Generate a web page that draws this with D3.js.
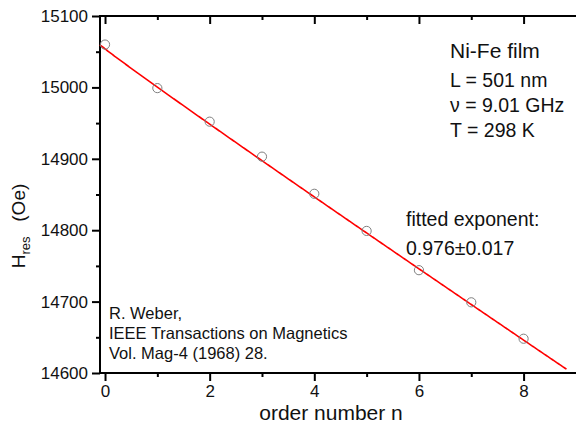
<!DOCTYPE html>
<html>
<head>
<meta charset="utf-8">
<script src="https://cdn.jsdelivr.net/npm/d3@7"></script>
<style>
  html, body { margin: 0; padding: 0; background: #fff; }
  svg { display: block; font-family: "Liberation Sans", Arial, sans-serif; }
</style>
</head>
<body>
<svg id="chart" width="576" height="426"></svg>
<script>
// Measured resonance fields for each order number
const orderN = [0, 1, 2, 3, 4, 5, 6, 7, 8];
const hRes = [15060, 14999, 14952, 14903, 14851, 14799, 14744, 14699, 14648];

// Fit H = H0 - C * n^p
const fitH0 = 15054;
const fitC = 53.6;
const fitExponent = 0.976;
const fitRange = [-0.1, 8.82];

const xMajorTicks = [0, 2, 4, 6, 8];
const xMinorTicks = [1, 3, 5, 7];
const yMajorTicks = [14600, 14700, 14800, 14900, 15000, 15100];
const yMinorTicks = [14650, 14750, 14850, 14950, 15050];

const infoLines = ["L = 501 nm", "\u03bd = 9.01 GHz", "T = 298 K"];
const refLines = ["R. Weber,", "IEEE Transactions on Magnetics", "Vol. Mag-4 (1968) 28."];

const svg = d3.select("#chart");
const plotLeft = 100, plotRight = 578, plotTop = 16, plotBottom = 373;

const x = d3.scaleLinear().domain([-0.096, 9.04]).range([plotLeft, plotRight]);
const y = d3.scaleLinear().domain([14600, 15100]).range([plotBottom, plotTop]);

const axisColor = "#000";

// Frame
svg.append("rect")
  .attr("x", plotLeft).attr("y", plotTop)
  .attr("width", plotRight - plotLeft).attr("height", plotBottom - plotTop)
  .attr("fill", "none").attr("stroke", axisColor).attr("stroke-width", 2);

function styleAxis(g) {
  g.select(".domain").remove();
  g.selectAll(".tick line").attr("stroke", axisColor).attr("stroke-width", 2);
  g.selectAll(".tick text").attr("font-size", 17).attr("fill", "#111")
    .attr("font-family", "Liberation Sans, Arial, sans-serif");
}

// Bottom axis (outward ticks) with labels
svg.append("g").attr("transform", `translate(0,${plotBottom})`)
  .call(d3.axisBottom(x).tickValues(xMajorTicks).tickSize(8).tickPadding(4).tickFormat(d3.format("d")))
  .call(styleAxis);
svg.append("g").attr("transform", `translate(0,${plotBottom})`)
  .call(d3.axisBottom(x).tickValues(xMinorTicks).tickSize(4).tickFormat(""))
  .call(styleAxis);

// Top axis (inward ticks)
svg.append("g").attr("transform", `translate(0,${plotTop})`)
  .call(d3.axisBottom(x).tickValues(xMajorTicks).tickSize(8).tickFormat(""))
  .call(styleAxis);
svg.append("g").attr("transform", `translate(0,${plotTop})`)
  .call(d3.axisBottom(x).tickValues(xMinorTicks).tickSize(4).tickFormat(""))
  .call(styleAxis);

// Left axis (outward ticks) with labels
svg.append("g").attr("transform", `translate(${plotLeft},0)`)
  .call(d3.axisLeft(y).tickValues(yMajorTicks).tickSize(8).tickPadding(4).tickFormat(d3.format("d")))
  .call(styleAxis);
svg.append("g").attr("transform", `translate(${plotLeft},0)`)
  .call(d3.axisLeft(y).tickValues(yMinorTicks).tickSize(4).tickFormat(""))
  .call(styleAxis);

// Right axis (inward ticks)
svg.append("g").attr("transform", `translate(${plotRight},0)`)
  .call(d3.axisLeft(y).tickValues(yMajorTicks).tickSize(-8).tickFormat(""))
  .call(styleAxis);
svg.append("g").attr("transform", `translate(${plotRight},0)`)
  .call(d3.axisLeft(y).tickValues(yMinorTicks).tickSize(-4).tickFormat(""))
  .call(styleAxis);

// Fitted curve
const fitN = d3.range(fitRange[0], fitRange[1] + 1e-9, 0.02);
const fitH = n => fitH0 - fitC * Math.sign(n) * Math.pow(Math.abs(n), fitExponent);
svg.append("path")
  .datum(fitN)
  .attr("fill", "none")
  .attr("stroke", "#ff0000")
  .attr("stroke-width", 1.6)
  .attr("d", d3.line().x(n => x(n)).y(n => y(fitH(n))));

// Data points
svg.append("g").selectAll("circle")
  .data(orderN.map((n, i) => ({ n, h: hRes[i] })))
  .join("circle")
  .attr("cx", d => x(d.n))
  .attr("cy", d => y(d.h))
  .attr("r", 4.6)
  .attr("fill", "none")
  .attr("stroke", "#808080")
  .attr("stroke-width", 1);

// Axis titles
svg.append("text")
  .attr("x", 331).attr("y", 420)
  .attr("text-anchor", "middle")
  .attr("font-size", 21)
  .attr("fill", "#111")
  .text("order number n");

const yTitle = svg.append("text")
  .attr("transform", "translate(25,226) rotate(-90)")
  .attr("text-anchor", "middle")
  .attr("font-size", 19)
  .attr("fill", "#111");
yTitle.append("tspan").text("H");
yTitle.append("tspan").attr("font-size", 13).attr("dy", 5).text("res");
yTitle.append("tspan").attr("dy", -5).text("\u2002 (Oe)");

// Sample annotation
svg.append("text")
  .attr("x", 450).attr("y", 58)
  .attr("font-size", 21).attr("fill", "#111")
  .text("Ni-Fe film");
svg.append("g").selectAll("text")
  .data(infoLines)
  .join("text")
  .attr("x", 450)
  .attr("y", (d, i) => 87 + i * 25)
  .attr("font-size", 19.5).attr("fill", "#111")
  .text(d => d);

// Fit result
svg.append("text").attr("x", 406).attr("y", 226)
  .attr("font-size", 19.5).attr("fill", "#111").text("fitted exponent:");
svg.append("text").attr("x", 406).attr("y", 255)
  .attr("font-size", 19.5).attr("fill", "#111").text("0.976\u00b10.017");

// Reference
svg.append("g").selectAll("text")
  .data(refLines)
  .join("text")
  .attr("x", 109)
  .attr("y", (d, i) => 319 + i * 20)
  .attr("font-size", 16.5).attr("fill", "#111")
  .text(d => d);
</script>
</body>
</html>
